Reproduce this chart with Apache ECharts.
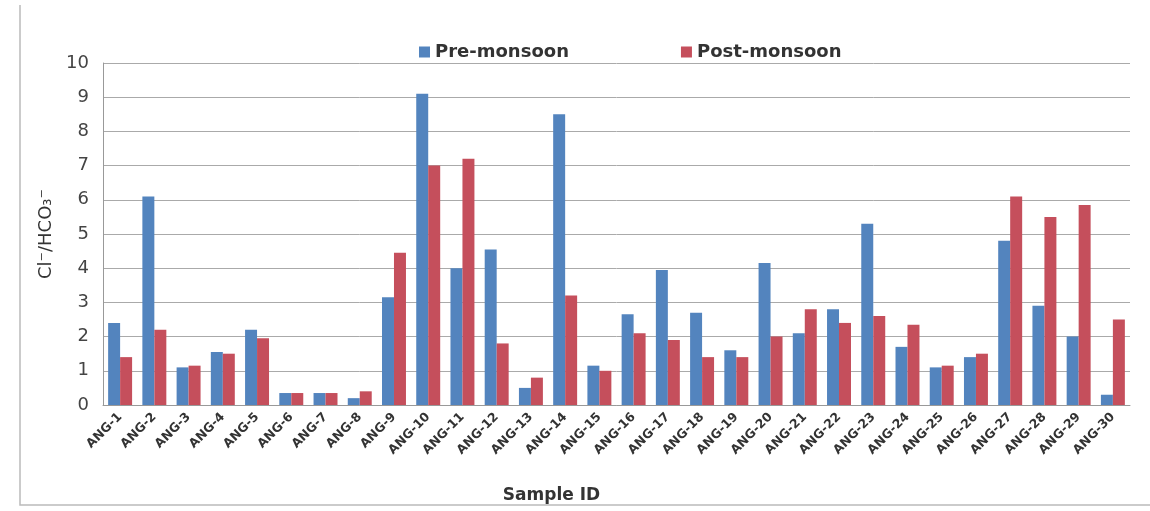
<!DOCTYPE html>
<html><head><meta charset="utf-8">
<script src="https://cdn.jsdelivr.net/npm/echarts@6/dist/echarts.min.js"></script>
<style>html,body{margin:0;padding:0;background:#fff}#c{width:1150px;height:511px}</style>
</head><body><div id="c"></div>
<script>
const categories = ['ANG-1','ANG-2','ANG-3','ANG-4','ANG-5','ANG-6','ANG-7','ANG-8','ANG-9','ANG-10','ANG-11','ANG-12','ANG-13','ANG-14','ANG-15','ANG-16','ANG-17','ANG-18','ANG-19','ANG-20','ANG-21','ANG-22','ANG-23','ANG-24','ANG-25','ANG-26','ANG-27','ANG-28','ANG-29','ANG-30'];
const preMonsoon = [2.4,6.1,1.1,1.55,2.2,0.35,0.35,0.2,3.15,9.1,4.0,4.55,0.5,8.5,1.15,2.65,3.95,2.7,1.6,4.15,2.1,2.8,5.3,1.7,1.1,1.4,4.8,2.9,2.0,0.3];
const postMonsoon = [1.4,2.2,1.15,1.5,1.95,0.35,0.35,0.4,4.45,7.0,7.2,1.8,0.8,3.2,1.0,2.1,1.9,1.4,1.4,2.0,2.8,2.4,2.6,2.35,1.15,1.5,6.1,5.5,5.85,2.5];
const yTicks = [0,1,2,3,4,5,6,7,8,9,10];

const chart = echarts.init(document.getElementById('c'));
chart.setOption({
  animation:false,
  textStyle:{fontFamily:'DejaVu Sans'},
  graphic:[{type:'polyline',shape:{points:[[20,5],[20,505],[1150,505]]},style:{stroke:'#bbb',lineWidth:1.5,fill:null}}],
  legend:{top:38,left:414,itemGap:112,itemWidth:11,itemHeight:11,icon:'rect',
    textStyle:{fontSize:18,fontWeight:'bold',color:'#333',fontFamily:'DejaVu Sans'},
    data:['Pre-monsoon','Post-monsoon']},
  grid:{left:103,right:20,top:63,bottom:106},
  xAxis:{type:'category',data:categories,
    name:'Sample ID',nameLocation:'middle',nameGap:82,
    nameTextStyle:{fontSize:17,fontWeight:'bold',color:'#333',padding:[0,130,0,0]},
    axisLine:{lineStyle:{color:'#999'}},axisTick:{show:false},
    axisLabel:{rotate:45,fontSize:12.5,fontWeight:'bold',color:'#333',interval:0,margin:10}},
  yAxis:{type:'value',min:0,max:10,interval:1,
    name:'Cl\u207B/HCO\u2083\u207B',nameLocation:'middle',nameGap:48,
    nameTextStyle:{fontSize:18,color:'#333'},
    axisLine:{show:true,lineStyle:{color:'#999'}},axisTick:{show:false},
    axisLabel:{fontSize:18,color:'#444',margin:14,
      formatter:v=>yTicks.includes(v)?String(v):''},
    splitLine:{lineStyle:{color:'#aaa',width:1}}},
  series:[
    {name:'Pre-monsoon',type:'bar',data:preMonsoon,barGap:'0%',barCategoryGap:'30%',itemStyle:{color:'#5384BE'}},
    {name:'Post-monsoon',type:'bar',data:postMonsoon,itemStyle:{color:'#C54F5C'}}
  ]
});
</script></body></html>
